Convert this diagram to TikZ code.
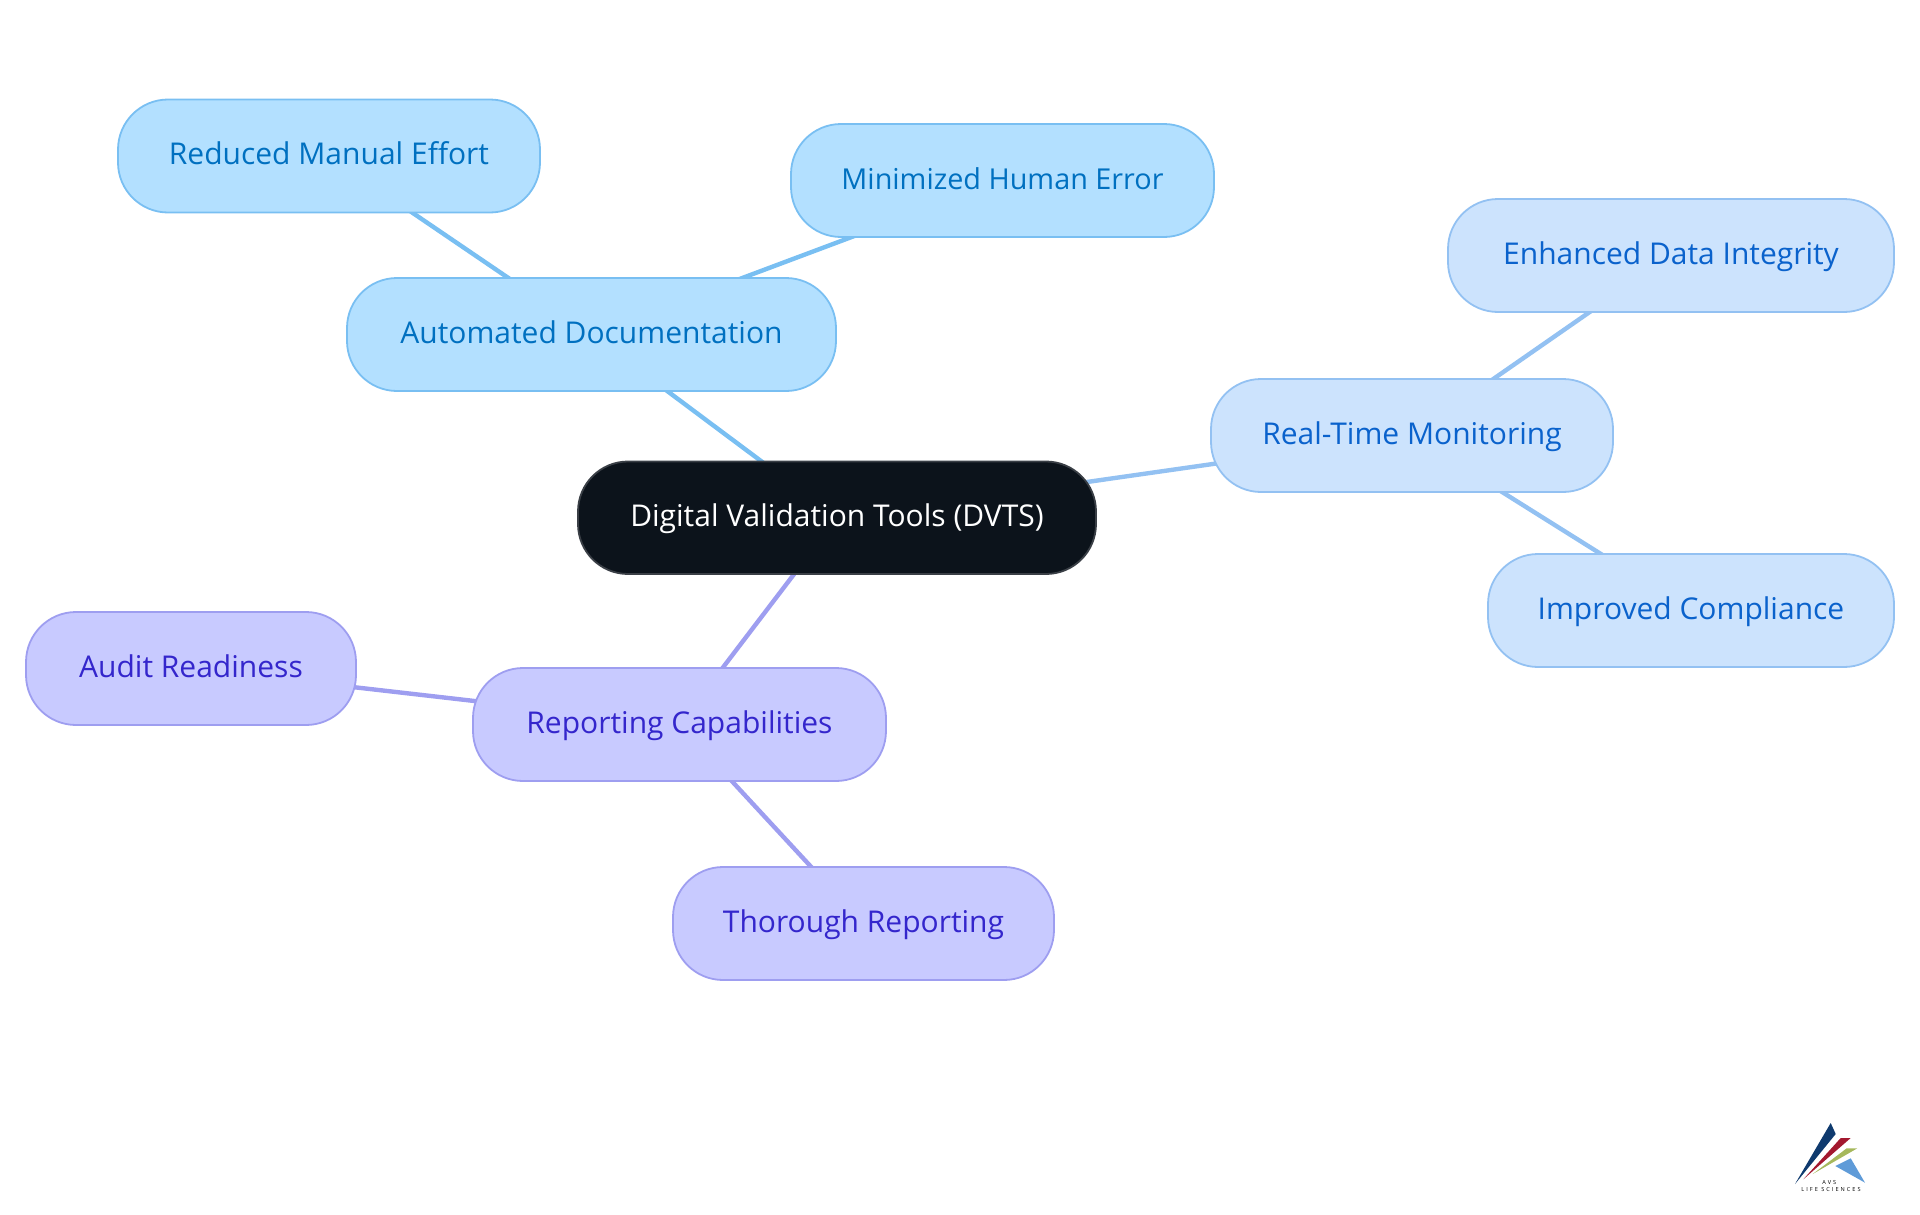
\documentclass[tikz,border=0pt]{standalone}
\usepackage{fontspec}
\setmainfont{Open Sans}
\pgfdeclarelayer{edges}
\pgfsetlayers{edges,main}
\definecolor{rootfill}{HTML}{0C131B}
\definecolor{rootline}{HTML}{3A3F46}
\definecolor{bfill}{HTML}{B3E0FF}
\definecolor{bline}{HTML}{79BFF2}
\definecolor{btext}{HTML}{0070C0}
\definecolor{mfill}{HTML}{CCE3FD}
\definecolor{mline}{HTML}{93C1F2}
\definecolor{mtext}{HTML}{0A62CC}
\definecolor{pfill}{HTML}{C8CAFF}
\definecolor{pline}{HTML}{9E9EF0}
\definecolor{ptext}{HTML}{3426CC}
\definecolor{logonavy}{HTML}{0F3A6E}
\definecolor{logored}{HTML}{A3182F}
\definecolor{logogreen}{HTML}{A6B85C}
\definecolor{logoblue}{HTML}{5F9BD8}
\tikzset{
  x=1pt,y=-1pt,
  pill/.style={rounded corners=50pt,line width=1.8pt,inner sep=0pt,text height=23pt,text depth=6pt,font=\fontsize{30}{36}\selectfont},
  rootnode/.style={pill,draw=rootline,fill=rootfill,text=white},
  bnode/.style={pill,draw=bline,fill=bfill,text=btext},
  mnode/.style={pill,draw=mline,fill=mfill,text=mtext},
  pnode/.style={pill,draw=pline,fill=pfill,text=ptext},
  link/.style={line width=4.4pt},
  logotext/.style={inner sep=0pt,text=black,font=\fontsize{5.6}{6}\selectfont\addfontfeature{LetterSpace=36}},
}
% #1 style, #2 name, #3 left, #4 top, #5 right, #6 bottom, #7 text
\newcommand{\pillnode}[7]{%
  \pgfmathsetmacro{\pw}{#5-#3}\pgfmathsetmacro{\ph}{#6-#4}%
  \pgfmathsetmacro{\px}{(#3+#5)/2}\pgfmathsetmacro{\py}{(#4+#6)/2}%
  \node[#1,minimum width=\pw pt,minimum height=\ph pt] (#2) at (\px,\py) {#7};}
\begin{document}
\begin{tikzpicture}
\useasboundingbox (0,0) rectangle (1920,1215);
\pillnode{rootnode}{root}{578}{461.5}{1096}{574}{Digital Validation Tools (DVTS)}
\pillnode{bnode}{auto}{347}{278}{836}{391}{Automated Documentation}
\pillnode{bnode}{reduced}{118}{99.5}{540}{212.5}{Reduced Manual Effort}
\pillnode{bnode}{minim}{791}{124}{1214}{237}{\fontsize{28.8}{36}\selectfont Minimized Human Error}
\pillnode{mnode}{real}{1211}{379}{1613}{492}{Real-Time Monitoring}
\pillnode{mnode}{enh}{1448}{199}{1894}{312}{Enhanced Data Integrity}
\pillnode{mnode}{impr}{1488}{554}{1894}{667}{Improved Compliance}
\pillnode{pnode}{rep}{473}{668}{886}{781}{Reporting Capabilities}
\pillnode{pnode}{audit}{26}{612}{356}{725}{Audit Readiness}
\pillnode{pnode}{thor}{673}{867}{1054}{980}{Thorough Reporting}
\begin{pgfonlayer}{edges}
\draw[link,draw=bline] (root.center) -- (auto.center);
\draw[link,draw=bline] (auto.center) -- (reduced.center);
\draw[link,draw=bline] (auto.center) -- (minim.center);
\draw[link,draw=mline] (root.center) -- (real.center);
\draw[link,draw=mline] (real.center) -- (enh.center);
\draw[link,draw=mline] (real.center) -- (impr.center);
\draw[link,draw=pline] (root.center) -- (rep.center);
\draw[link,draw=pline] (rep.center) -- (audit.center);
\draw[link,draw=pline] (rep.center) -- (thor.center);
\end{pgfonlayer}
% logo
\fill[logonavy] (1830.7,1123) -- (1835.7,1134) -- (1795,1184) -- cycle;
\fill[logored] (1840.7,1138) -- (1850.7,1138) -- (1803.3,1179.3) -- cycle;
\fill[logogreen] (1846.7,1148.3) -- (1857.3,1148.3) -- (1812.7,1174) -- cycle;
\fill[logoblue] (1850.7,1158.3) -- (1865,1182.7) -- (1835.3,1166) -- cycle;
\node[logotext] (logoa) at (1829.3,1182.3) {AVS};
\node[logotext] (logob) at (1831,1189) {LIFE SCIENCES};
\end{tikzpicture}
\end{document}
